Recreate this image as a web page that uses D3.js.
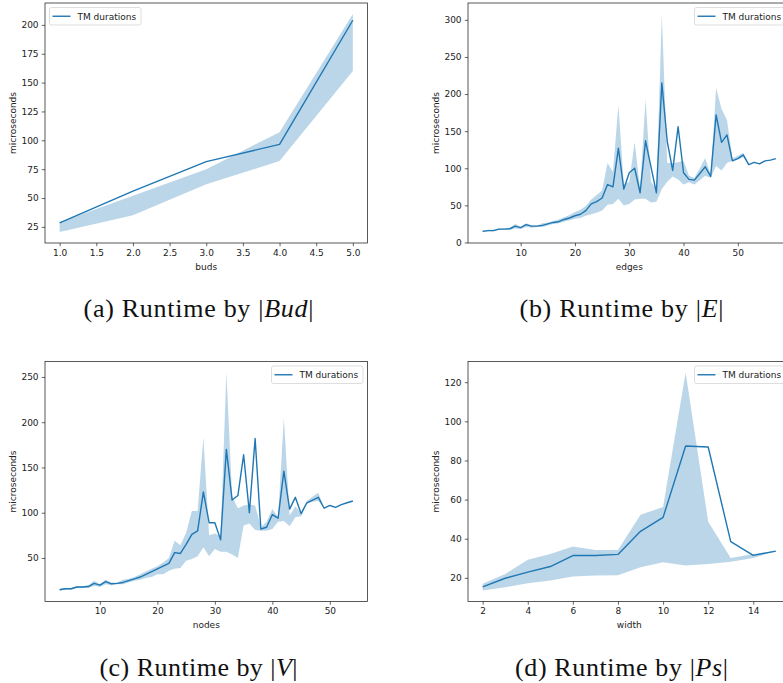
<!DOCTYPE html>
<html>
<head>
<meta charset="utf-8">
<script src="https://cdn.jsdelivr.net/npm/d3@7/dist/d3.min.js"></script>
<style>
  body { margin: 0; background: #fff; }
  text { font-family: "DejaVu Sans", sans-serif; }
</style>
</head>
<body>
<svg id="fig" width="783" height="683"></svg>
<script>
// (a) runtime by number of buds
var buds = [1, 2, 3, 4, 5];
var budsMean = [28.5, 56, 81.5, 96.5, 204];
var budsLow = [20.5, 35, 62, 82, 160];
var budsHigh = [29, 52, 75, 107, 209.5];
var budsTicksX = [1.0, 1.5, 2.0, 2.5, 3.0, 3.5, 4.0, 4.5, 5.0];
var budsTicksY = [25, 50, 75, 100, 125, 150, 175, 200];

// (b) runtime by number of edges
var edges = [3, 4, 5, 6, 7, 8, 9, 10, 11, 12, 13, 14, 15, 16, 17, 18, 19, 20, 21, 22, 23, 24, 25, 26, 27, 28, 29, 30,
  31, 32, 33, 34, 35, 36, 37, 38, 39, 40, 41, 42, 43, 44, 45, 46, 47, 48, 49, 50, 51, 52, 53, 54, 55, 56, 57];
var edgesMean = [15, 16, 16, 18, 18, 18.5, 22, 20, 24, 22, 22, 23, 25, 27, 28, 31, 33, 36, 38, 43, 52, 55, 60, 78, 75, 127, 72, 94,
  100, 67, 137, 102, 67, 215, 136, 97, 156, 94, 85, 84, 93, 102, 89, 172, 135, 145, 110, 113, 118, 105, 108, 106, 110, 111, 113];
var edgesLow = [14, 15, 15, 17, 17, 17, 19, 18, 21, 20, 21, 21, 23, 25, 26, 28, 30, 32, 33, 36, 38, 40, 43, 51, 52, 59, 50, 52,
  58, 59, 59, 54, 55, 72, 82, 89, 85, 78, 81, 78, 84, 90, 87, 103, 97, 107, 110, 112, 115, 105, 108, 106, 110, 111, 113];
var edgesHigh = [16, 17, 17, 19, 19, 20, 25, 21, 26, 23, 23, 26, 27, 29, 31, 34, 37, 41, 44, 49, 58, 64, 70, 107, 95, 185, 78, 82,
  135, 72, 193, 82, 72, 308, 107, 107, 108, 110, 90, 87, 100, 114, 91, 208, 180, 165, 113, 117, 121, 105, 108, 106, 110, 111, 113];
var edgesTicksX = [10, 20, 30, 40, 50];
var edgesTicksY = [0, 50, 100, 150, 200, 250, 300];

// (c) runtime by number of nodes
var nodes = [3, 4, 5, 6, 7, 8, 9, 10, 11, 12, 13, 14, 15, 16, 17, 18, 19, 20, 21, 22, 23, 24, 25, 26, 27, 28, 29, 30,
  31, 32, 33, 34, 35, 36, 37, 38, 39, 40, 41, 42, 43, 44, 45, 46, 47, 48, 49, 50, 51, 52, 53, 54];
var nodesMean = [15, 16, 16, 18, 18, 18.5, 22, 20, 24, 21.5, 22, 23, 25, 27, 29, 32, 35, 38, 41, 44, 56, 55, 65, 76, 80, 123, 89, 89,
  70, 170, 114, 119, 164, 100, 182, 82, 84, 98, 94, 146, 104, 117, 99, 111, 114, 117, 105, 108, 106, 109, 111, 113];
var nodesLow = [14, 15, 15, 17, 17, 17, 19, 18, 21, 20, 21, 21, 23, 25, 26, 28, 29, 32, 32, 36, 38, 39, 47, 49, 52, 62, 52, 60,
  57, 57, 54, 50, 86, 88, 81, 80, 80, 82, 90, 91, 85, 95, 96, 110, 112, 113, 105, 108, 106, 109, 111, 113];
var nodesHigh = [16, 17, 17, 19, 19, 20, 25, 21, 26, 23, 23, 26, 27, 29, 32, 35, 38, 41, 45, 50, 69, 64, 78, 102, 102, 183, 75, 77,
  74, 255, 118, 105, 108, 109, 108, 84, 90, 104, 95, 205, 97, 107, 100, 113, 118, 122, 105, 108, 106, 109, 111, 113];
var nodesTicksX = [10, 20, 30, 40, 50];
var nodesTicksY = [50, 100, 150, 200, 250];

// (d) runtime by width
var widths = [2, 3, 4, 5, 6, 7, 8, 9, 10, 11, 12, 13, 14, 15];
var widthsMean = [15.4, 19.8, 22.9, 25.8, 31.4, 31.4, 32, 43.8, 50.9, 87.4, 86.9, 38.5, 31.5, 33.7];
var widthsLow = [13.5, 15.2, 17.3, 18.6, 20.7, 21.2, 21.4, 25.4, 28, 26.3, 27.1, 28.3, 30.2, 33.7];
var widthsHigh = [17, 22, 29.3, 32.2, 36, 34.3, 34.3, 52.3, 56.2, 125, 48.7, 30.2, 32.2, 33.7];
var widthsTicksX = [2, 4, 6, 8, 10, 12, 14];
var widthsTicksY = [20, 40, 60, 80, 100, 120];

var blue = "#1f77b4";
var ink = "#222";

var panels = [
  {x: buds, mean: budsMean, low: budsLow, high: budsHigh, tx: budsTicksX, ty: budsTicksY, fmt: ".1f",
   xlabel: "buds", cap: ["(a) Runtime by |", "Bud", "|"], capW: 230, left: 45, top: 3, legend: "left"},
  {x: edges, mean: edgesMean, low: edgesLow, high: edgesHigh, tx: edgesTicksX, ty: edgesTicksY, fmt: "d",
   xlabel: "edges", cap: ["(b) Runtime by |", "E", "|"], capW: 204, left: 468, top: 3, legend: "right"},
  {x: nodes, mean: nodesMean, low: nodesLow, high: nodesHigh, tx: nodesTicksX, ty: nodesTicksY, fmt: "d",
   xlabel: "nodes", cap: ["(c) Runtime by |", "V", "|"], capW: 198, left: 45, top: 361.5, legend: "right"},
  {x: widths, mean: widthsMean, low: widthsLow, high: widthsHigh, tx: widthsTicksX, ty: widthsTicksY, fmt: "d",
   xlabel: "width", cap: ["(d) Runtime by |", "Ps", "|"], capW: 213, left: 468, top: 361.5, legend: "right"}
];

var svg = d3.select("#fig");
svg.append("rect").attr("width", 783).attr("height", 683).attr("fill", "#fff");

var W = 322.5, H = 240;

panels.forEach(drawPanel);

function drawPanel(p) {
  var g = svg.append("g").attr("transform", "translate(" + p.left + "," + p.top + ")");

  // matplotlib style 5% margins
  var xe = d3.extent(p.x), xm = (xe[1] - xe[0]) * 0.05;
  var ye = d3.extent(p.low.concat(p.high, p.mean)), ym = (ye[1] - ye[0]) * 0.05;
  var x = d3.scaleLinear().domain([xe[0] - xm, xe[1] + xm]).range([0, W]);
  var y = d3.scaleLinear().domain([ye[0] - ym, ye[1] + ym]).range([H, 0]);

  var band = d3.area()
    .x(function(d, i) { return x(p.x[i]); })
    .y0(function(d, i) { return y(p.low[i]); })
    .y1(function(d, i) { return y(p.high[i]); });

  g.append("path").datum(p.x)
    .attr("d", band)
    .attr("fill", blue)
    .attr("fill-opacity", 0.3);

  var line = d3.line()
    .x(function(d, i) { return x(p.x[i]); })
    .y(function(d) { return y(d); });

  g.append("path").datum(p.mean)
    .attr("d", line)
    .attr("fill", "none")
    .attr("stroke", blue)
    .attr("stroke-width", 1.4)
    .attr("stroke-linejoin", "round");

  var ax = g.append("g").attr("transform", "translate(0," + H + ")")
    .call(d3.axisBottom(x).tickValues(p.tx).tickFormat(d3.format(p.fmt)).tickSize(3.2).tickPadding(3.2));
  var ay = g.append("g")
    .call(d3.axisLeft(y).tickValues(p.ty).tickFormat(d3.format("d")).tickSize(3.2).tickPadding(3.2));
  [ax, ay].forEach(function(a) {
    a.select(".domain").remove();
    a.selectAll("line").attr("stroke", ink).attr("stroke-width", 0.7);
    a.selectAll("text").attr("fill", ink).style("font-size", "9px").style("font-family", "DejaVu Sans");
  });

  // frame
  g.append("rect").attr("width", W).attr("height", H)
    .attr("fill", "none").attr("stroke", ink).attr("stroke-width", 0.75);

  g.append("text").attr("x", W / 2).attr("y", H + 26.5)
    .attr("text-anchor", "middle").attr("fill", ink).style("font-size", "9px")
    .text(p.xlabel);
  g.append("text").attr("transform", "translate(-29," + (H / 2) + ") rotate(-90)")
    .attr("text-anchor", "middle").attr("fill", ink).style("font-size", "9px")
    .text("microseconds");

  // legend
  var lw = 91.5, lh = 17.5;
  var lx = p.legend === "left" ? 4.5 : W - 4.5 - lw;
  var lg = g.append("g").attr("transform", "translate(" + lx + ",4.5)");
  lg.append("rect").attr("width", lw).attr("height", lh).attr("rx", 2)
    .attr("fill", "#fff").attr("fill-opacity", 0.8)
    .attr("stroke", "#d0d0d0").attr("stroke-width", 0.7);
  lg.append("line").attr("x1", 3).attr("x2", 21).attr("y1", lh / 2).attr("y2", lh / 2)
    .attr("stroke", blue).attr("stroke-width", 1.4);
  lg.append("text").attr("x", 28).attr("y", lh / 2 + 3.3)
    .attr("fill", ink).style("font-size", "9px").text("TM durations");

  // caption under the panel
  var cap = svg.append("text")
    .attr("x", p.left + 153.5).attr("y", p.top + 314)
    .attr("text-anchor", "middle")
    .attr("textLength", p.capW).attr("lengthAdjust", "spacing")
    .style("font-family", "Liberation Serif, serif").style("font-size", "26px").attr("fill", "#111");
  cap.append("tspan").text(p.cap[0]);
  cap.append("tspan").style("font-style", "italic").text(p.cap[1]);
  cap.append("tspan").text(p.cap[2]);
}
</script>
</body>
</html>
